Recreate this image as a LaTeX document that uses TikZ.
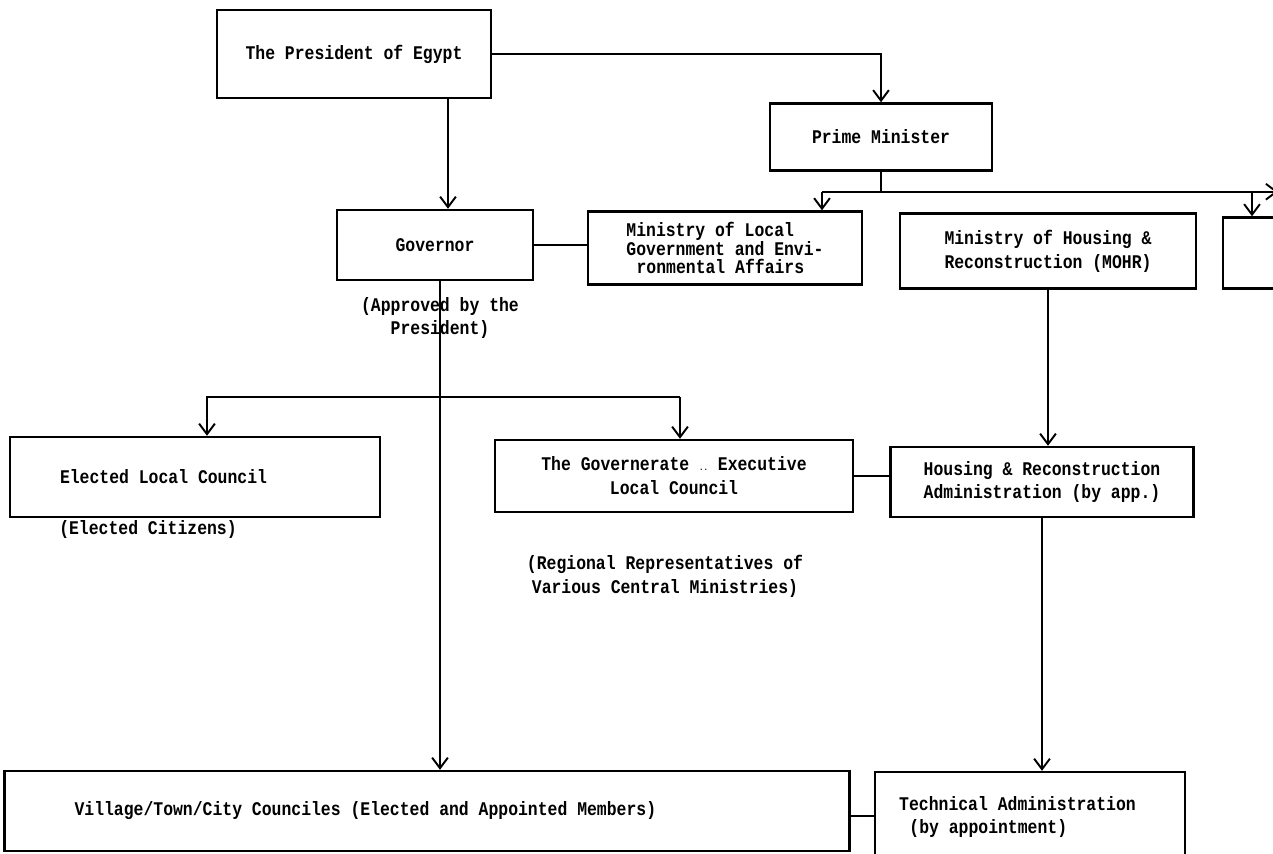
\documentclass[tikz,border=0pt]{standalone}
\usepackage{fontspec}
\setmonofont[FakeStretch=0.85]{Liberation Mono}
\usetikzlibrary{arrows.meta}

\begin{document}
\begin{tikzpicture}
[x=0.02cm,y=-0.02cm,%
  every node/.style={font=\ttfamily\bfseries\fontsize{11}{13.6}\selectfont,align=center},%
  box/.style={draw,line width=1.4pt,inner sep=0pt},%
  link/.style={line width=1.1pt},%
  arr/.style={link,-{Straight Barb[length=6pt,width=9pt,line width=1.1pt]}}]
\useasboundingbox (0,0) rectangle (1273,854);
\clip (0,0) rectangle (1273,854);
% boxes
\node[box,minimum width=5.48cm,minimum height=1.76cm] (pres) at (354,54) {The President of Egypt};
\node[box,minimum width=4.44cm,minimum height=1.34cm] (pm) at (881,137) {Prime Minister};
\node[box,minimum width=3.92cm,minimum height=1.40cm] (gov) at (435,245) {Governor};
\node[box,minimum width=5.48cm,minimum height=1.46cm,align=left,
  font=\ttfamily\bfseries\fontsize{11}{10.4}\selectfont] (mlg) at (725,248)
  {Ministry of Local\\Government and Envi-\hspace*{.8cm}\\\hspace*{1ex}ronmental Affairs};
\node[box,minimum width=5.92cm,minimum height=1.50cm] (mohr) at (1048,251)
  {Ministry of Housing \&\\Reconstruction (MOHR)};
\node[box,minimum width=5.92cm,minimum height=1.42cm] (other) at (1371,253) {};
\node[box,minimum width=7.4cm,minimum height=1.6cm] (elc) at (195,477)
  {\makebox[5.4cm][l]{Elected Local Council}};
\node[box,minimum width=7.16cm,minimum height=1.44cm] (gec) at (674,476)
  {The Governerate {\tiny..} Executive\\Local Council};
\node[box,minimum width=6.06cm,minimum height=1.40cm] (hra) at (1042,482)
  {Housing \& Reconstruction\\Administration (by app.)};
\node[box,minimum width=16.9cm,minimum height=1.6cm] (vtc) at (427,811)
  {\makebox[14.1cm][l]{Village/Town/City Counciles (Elected and Appointed Members)}};
\node[box,minimum width=6.2cm,minimum height=1.8cm,align=left] (tec) at (1030,817)
  {Technical Administration\hspace*{.5cm}\\\hspace*{1ex}(by appointment)};
% notes
\node (apl) at (440,318) {(Approved by the\\President)};
\node (ecl) at (148,530) {(Elected Citizens)};
\node (rrl) at (665,576) {(Regional Representatives of\\Various Central Ministries)};
% connectors
\coordinate (pmbus) at ([yshift=-0.4cm]pm.south);
\coordinate (dmlg) at (pmbus -| 822,0);
\coordinate (doth) at (pmbus -| 1252,0);
\coordinate (busend) at (pmbus -| 1278,0);
\coordinate (bl) at (207,397);
\coordinate (br) at (680,397);
\draw[arr] (pres.east) -| (pm.north);
\draw[arr] ([xshift=.26cm]gov.north |- pres.south) -- ([xshift=.26cm]gov.north);
\draw[link] (pm.south) -- (pmbus);
\draw[arr] (dmlg) -- (busend);
\draw[arr] (dmlg) -- (dmlg |- mlg.north);
\draw[arr] (doth) -- (doth |- other.north);
\draw[link] (gov.east) -- (gov.east -| mlg.west);
\draw[arr] ([xshift=.1cm]gov.south) -- ([xshift=.1cm]gov.south |- vtc.north);
\draw[arr] (br) -- (bl) -- (bl |- elc.north);
\draw[arr] (br) -- (br |- gec.north);
\draw[link] (gec.east) -- (gec.east -| hra.west);
\draw[arr] (mohr.south) -- (mohr.south |- hra.north);
\draw[arr] (hra.south) -- (hra.south |- tec.north);
\draw[link] ([yshift=-.1cm]vtc.east) -- ([yshift=-.1cm]vtc.east -| tec.west);
\end{tikzpicture}
\end{document}
